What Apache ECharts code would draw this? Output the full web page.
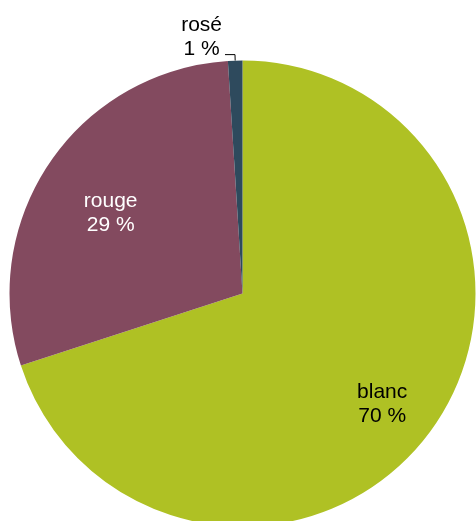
<!DOCTYPE html>
<html>
<head>
<meta charset="utf-8">
<style>
html,body{margin:0;padding:0;background:#fff;}
#chart{width:476px;height:521px;}
</style>
<script src="https://cdn.jsdelivr.net/npm/echarts@6/dist/echarts.min.js"></script>
</head>
<body>
<div id="chart"></div>
<script>
var categories = ['blanc', 'rouge', 'rosé'];
var values = [70, 29, 1];
var colors = ['#AFC124', '#834A5F', '#2E4A5D'];

var labelStyles = [
  { position: 'inside', color: '#000', offset: [43, 40], spacer: false },
  { position: 'inside', color: '#fff', offset: [-33, -13], spacer: false },
  { position: 'outside', color: '#000', spacer: true }
];

var data = categories.map(function (c, i) {
  var ls = labelStyles[i];
  var lbl = { position: ls.position, color: ls.color, distanceToLabelLine: 3 };
  if (ls.offset) lbl.offset = ls.offset;
  lbl.formatter = function (p) {
    var s = '{t|' + p.name + '}\n{t|' + p.value + ' %}';
    if (ls.spacer) s += '\n{s| }';
    return s;
  };
  lbl.rich = {
    t: { color: ls.color, fontFamily: 'Liberation Sans, Arial, sans-serif', fontSize: 21, lineHeight: 24, align: 'center' },
    s: { fontSize: 10, lineHeight: 34 }
  };
  var item = {
    name: c,
    value: values[i],
    itemStyle: { color: colors[i] },
    label: lbl
  };
  if (ls.position === 'outside') {
    item.labelLine = { show: true, length: 6, length2: 10, lineStyle: { color: '#000', width: 1 } };
  } else {
    item.labelLine = { show: false };
  }
  return item;
});

var chart = echarts.init(document.getElementById('chart'), null, { renderer: 'canvas' });
chart.setOption({
  animation: false,
  series: [{
    type: 'pie',
    center: [242.5, 293.5],
    radius: [0, 233],
    startAngle: 90,
    clockwise: true,
    avoidLabelOverlap: false,
    itemStyle: { borderWidth: 0 },
    label: {
      show: true,
      fontFamily: 'Liberation Sans, Arial, sans-serif',
      fontSize: 21,
      lineHeight: 24,
      align: 'center'
    },
    emphasis: { disabled: true },
    data: data
  }]
});
</script>
</body>
</html>
